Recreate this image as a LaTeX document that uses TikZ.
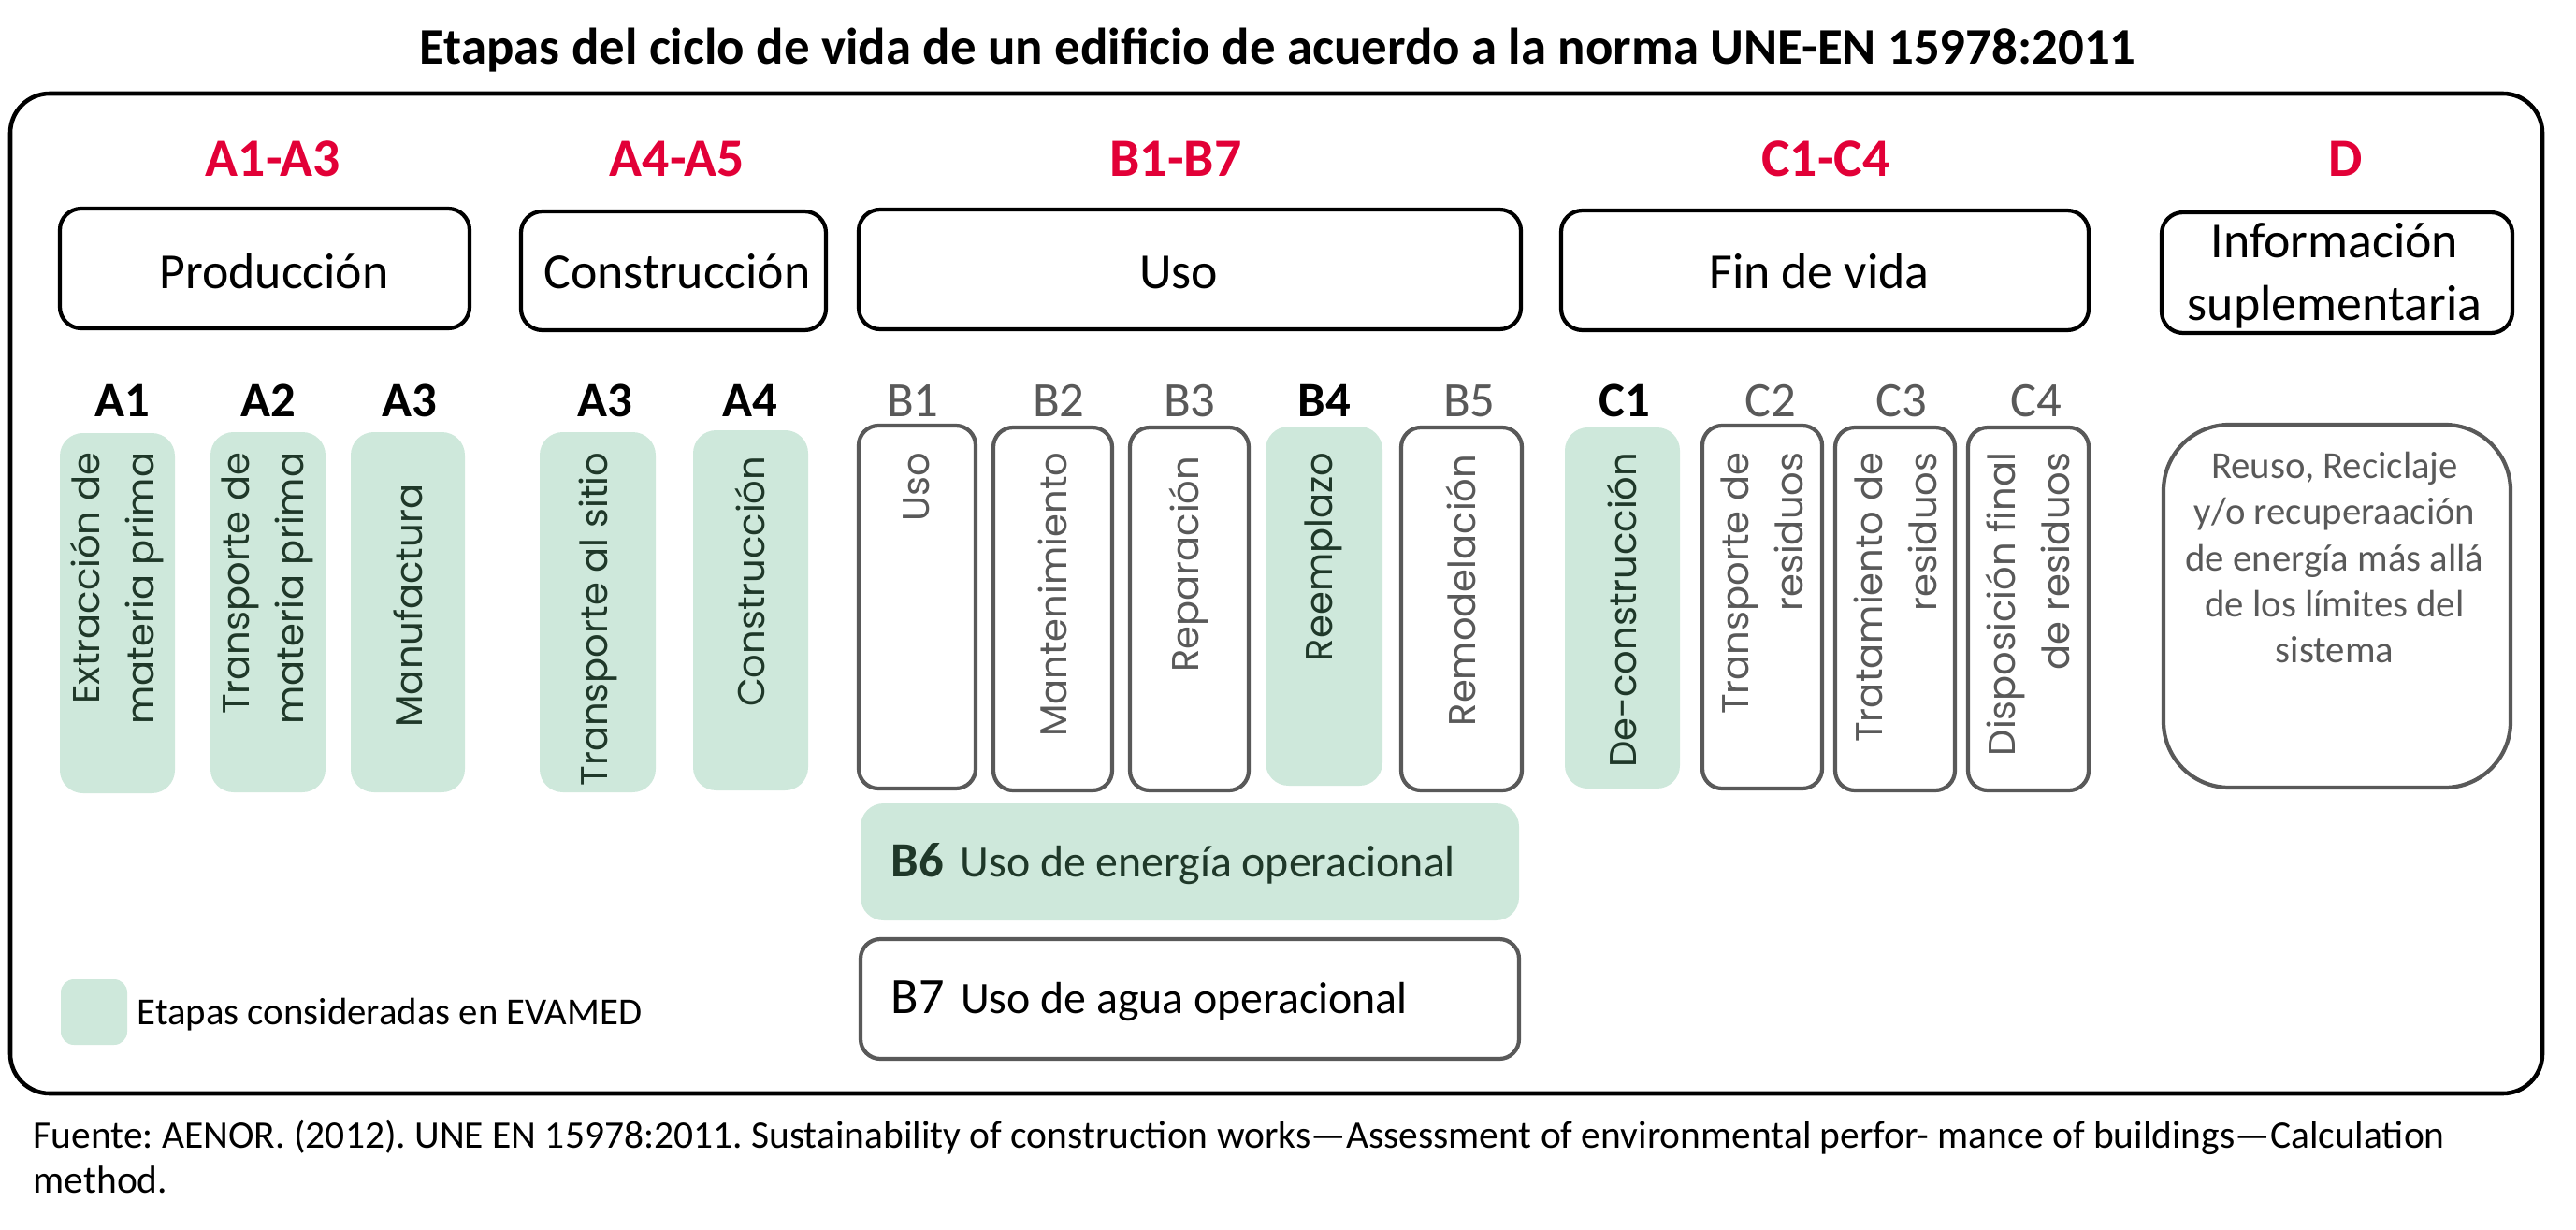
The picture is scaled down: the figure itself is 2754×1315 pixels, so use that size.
\documentclass[tikz,border=0pt]{standalone}
\usepackage{fontspec}
\setmainfont{Carlito}
\newfontfamily\gothic{Poppins}
\frenchspacing
\definecolor{rojo}{RGB}{226,0,55}
\definecolor{verde}{RGB}{206,232,219}
\definecolor{verdeosc}{RGB}{31,56,41}
\definecolor{gris}{RGB}{89,89,89}

\begin{document}
\begin{tikzpicture}[x=0.01cm, y=-0.01cm,
    grupo/.style={draw=black, line width=1.2pt, rounded corners=6.5pt},
    etapa/.style={draw=gris, line width=1.2pt, rounded corners=6pt},
    considerada/.style={fill=verde, rounded corners=7pt},
    fase/.style={text=rojo, anchor=base, inner sep=0, font=\fontsize{16.4}{20}\selectfont\bfseries},
    modulo/.style={anchor=base, inner sep=0, font=\fontsize{15}{18}\selectfont\bfseries},
    modulogris/.style={text=gris, anchor=base, inner sep=0, font=\fontsize{15}{18}\selectfont},
    grupotxt/.style={anchor=base, inner sep=0, font=\fontsize{15.3}{19}\selectfont},
    vertical/.style={rotate=90, anchor=east, align=right, inner sep=0, font=\gothic\fontsize{11.4}{16.5}\selectfont},
    verticalgris/.style={vertical, text=gris},
    verticalverde/.style={vertical, text=verdeosc}]
    \useasboundingbox (0,0) rectangle (2754,1315);

    \node[anchor=base, inner sep=0, font=\fontsize{15.6}{19}\selectfont\bfseries] (titulo) at (1366,68) {Etapas del ciclo de vida de un edificio de acuerdo a la norma UNE-EN 15978:2011};
    \draw[black, line width=1.3pt, rounded corners=12pt] (11,100) rectangle (2718,1169);

    \node[fase] (fA) at (292,188) {A1-A3};
    \node[fase] (fAA) at (724,188) {A4-A5};
    \node[fase] (fB) at (1257,188) {B1-B7};
    \node[fase] (fC) at (1952,188) {C1-C4};
    \node[fase] (fD) at (2508,188) {D};

    \draw[grupo] (64,223) rectangle (502,351);
    \draw[grupo] (557,226) rectangle (883,353);
    \draw[grupo] (918,224) rectangle (1626,352);
    \draw[grupo] (1669,225) rectangle (2233,353);
    \draw[grupo] (2311,227) rectangle (2686,356);
    \node[grupotxt] (produccion) at (293,308) {Producción};
    \node[grupotxt] (construccion) at (724,308) {Construcción};
    \node[grupotxt] (uso) at (1260,308) {Uso};
    \node[grupotxt] (finvida) at (1945,308) {Fin de vida};
    \node[grupotxt, anchor=center, align=center, font=\fontsize{15.3}{19}\selectfont] (info) at (2496,295) {Información\\suplementaria};

    % modulos A
    \node[modulo] (lA1) at (131,445) {A1};
    \node[modulo] (lA2) at (287,445) {A2};
    \node[modulo] (lA3) at (438,445) {A3};
    \node[modulo] (lA3b) at (647,445) {A3};
    \node[modulo] (lA4) at (802,445) {A4};
    \fill[considerada] (64,463) rectangle (187,848);
    \fill[considerada] (225,462) rectangle (348,847);
    \fill[considerada] (375,462) rectangle (497,847);
    \fill[considerada] (577,462) rectangle (701,847);
    \fill[considerada] (741,460) rectangle (864,845);
    \node[verticalverde] (tA1) at (125,483) {Extracción de\\materia prima};
    \node[verticalverde] (tA2) at (286,483) {Transporte de\\materia prima};
    \node[verticalverde] (tA3) at (436,517) {Manufactura};
    \node[verticalverde] (tA3b) at (639,483) {Transporte al sitio};
    \node[verticalverde] (tA4) at (802,487) {Construcción};

    % modulos B
    \node[modulogris] (lB1) at (976,445) {B1};
    \node[modulogris] (lB2) at (1132,445) {B2};
    \node[modulogris] (lB3) at (1272,445) {B3};
    \node[modulo] (lB4) at (1416,445) {B4};
    \node[modulogris] (lB5) at (1571,445) {B5};
    \draw[etapa] (918,455) rectangle (1043,843);
    \draw[etapa] (1062,457) rectangle (1189,845);
    \draw[etapa] (1208,457) rectangle (1335,845);
    \fill[considerada] (1353,456) rectangle (1478,840);
    \draw[etapa] (1498,457) rectangle (1627,845);
    \node[verticalgris] (tB1) at (980,483) {Uso};
    \node[verticalgris] (tB2) at (1125,483) {Mantenimiento};
    \node[verticalgris] (tB3) at (1271,487) {Reparación};
    \node[verticalverde] (tB4) at (1415,483) {Reemplazo};
    \node[verticalgris] (tB5) at (1562,485) {Remodelación};

    \fill[considerada] (920,859) rectangle (1624,984);
    \node[anchor=base west, inner sep=0, text=verdeosc] (tB6) at (952,937) {{\fontsize{15}{18}\selectfont\bfseries B6}\hspace{5pt}{\fontsize{13.6}{16}\selectfont Uso de energía operacional}};
    \draw[etapa] (920,1004) rectangle (1624,1132);
    \node[anchor=base west, inner sep=0] (tB7) at (952,1083) {{\fontsize{15.4}{18}\selectfont B7}\hspace{5pt}{\fontsize{13.6}{16}\selectfont Uso de agua operacional}};

    % modulos C
    \node[modulo] (lC1) at (1737,445) {C1};
    \node[modulogris] (lC2) at (1893,445) {C2};
    \node[modulogris] (lC3) at (2033,445) {C3};
    \node[modulogris] (lC4) at (2177,445) {C4};
    \fill[considerada] (1673,457) rectangle (1796,843);
    \draw[etapa] (1820,455) rectangle (1948,843);
    \draw[etapa] (1962,457) rectangle (2090,845);
    \draw[etapa] (2104,457) rectangle (2233,845);
    \node[verticalverde] (tC1) at (1734,483) {De-construcción};
    \node[verticalgris] (tC2) at (1884,483) {Transporte de\\residuos};
    \node[verticalgris] (tC3) at (2026,483) {Tratamiento de\\residuos};
    \node[verticalgris] (tC4) at (2168,483) {Disposición final\\de residuos};

    % modulo D
    \draw[etapa, rounded corners=20pt] (2313,454) rectangle (2684,842);
    \node[align=center, inner sep=0, text=gris, font=\fontsize{11.6}{14}\selectfont] (tD) at (2496,596) {Reuso, Reciclaje\\y/o recuperaación\\de energía más allá\\de los límites del\\sistema};

    % leyenda
    \fill[considerada, rounded corners=4pt] (65,1047) rectangle (136,1117);
    \node[anchor=base west, inner sep=0, font=\fontsize{11.6}{14}\selectfont] (leyenda) at (146,1095) {Etapas consideradas en EVAMED};

    \node[anchor=base west, inner sep=0, font=\fontsize{11.8}{14}\selectfont] (fuente) at (35,1227) {Fuente: AENOR. (2012). UNE EN 15978:2011. Sustainability of construction works—Assessment of environmental perfor- mance of buildings—Calculation};
    \node[anchor=base west, inner sep=0, font=\fontsize{11.8}{14}\selectfont] (fuenteb) at (35,1275) {method.};
\end{tikzpicture}
\end{document}
